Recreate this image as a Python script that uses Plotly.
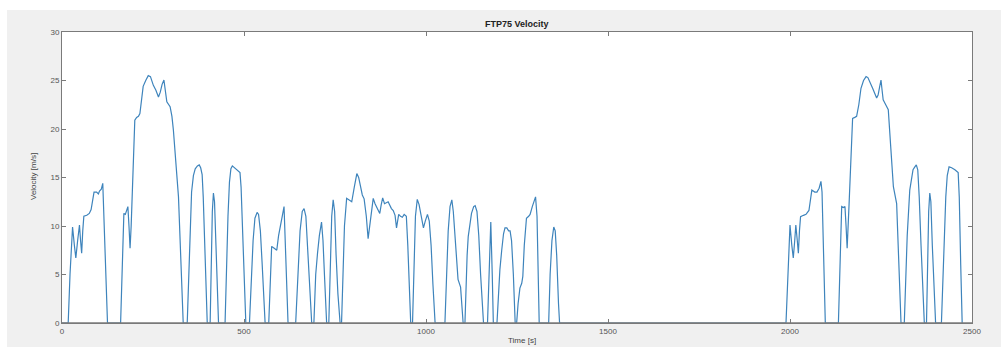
import plotly.graph_objects as go

# ---- data ----
t_phase1 = [0, 17, 22, 29, 34, 38, 43, 48, 51, 54, 57, 60, 68, 75, 80, 84, 88, 95, 100, 103, 108, 112, 125,
            161, 165, 170, 174, 178, 181, 184, 187, 190, 195, 200, 205, 210, 214, 218, 223, 230, 237, 243, 247,
            251, 258, 265, 270, 275, 280, 284, 288, 297, 302, 306, 313, 320, 327, 333,
            344, 348, 352, 356, 361, 366, 372, 377, 381, 385, 388, 392, 396, 399,
            407, 410, 413, 416, 419, 423, 427, 430,
            448, 452, 456, 460, 464, 468, 474, 482, 489, 492, 496, 500, 505]
v_phase1 = [0, 0, 5, 9.9, 8, 6.7, 8.5, 10.1, 8.5, 7.2, 9.5, 11.0, 11.1, 11.3, 11.7, 12.5, 13.5, 13.5, 13.3, 13.6, 13.8, 14.4, 0,
            0, 6, 11.3, 11.2, 11.8, 12.0, 10, 7.7, 10, 15.5, 20.9, 21.2, 21.3, 21.6, 23, 24.4, 25.0, 25.5, 25.4, 24.9,
            24.5, 24.0, 23.3, 23.8, 24.6, 25.05, 24, 22.8, 22.3, 21.3, 19.9, 16.5, 13.0, 6, 0,
            0, 5, 10, 13.5, 15.2, 15.9, 16.2, 16.3, 16.0, 15.3, 13, 8, 3, 0,
            0, 6, 11.5, 13.4, 12.5, 8, 3, 0,
            0, 6, 11, 14.5, 15.9, 16.2, 16.0, 15.7, 15.5, 14, 9, 4, 0]

t_phase2 = [515, 520, 525, 530, 536, 540, 545, 550, 555, 558,
            568, 572, 576, 583, 590, 595, 600, 605, 610, 614, 618, 621,
            642, 648, 654, 660, 665, 670, 676, 681, 686,
            692, 697, 702, 707, 713, 717, 721, 727,
            733, 737, 741, 745, 749, 753, 758, 764,
            768, 772, 776, 782, 789, 796, 803, 810, 815, 820, 825, 830, 836, 841, 846, 851, 855, 860, 864,
            869, 873, 877, 881, 886, 891, 896, 905, 910, 915, 919, 922, 925, 930, 935, 940, 946, 950, 954, 958,
            963, 967, 971, 976, 981, 986, 993, 998, 1004, 1009, 1014, 1019, 1025,
            1052, 1056, 1061, 1066, 1071, 1075, 1080, 1084, 1088, 1095, 1099, 1102,
            1107, 1110, 1113, 1116, 1120, 1125, 1131, 1135, 1140, 1145, 1150, 1155, 1158,
            1169, 1173, 1178, 1182, 1185,
            1195, 1199, 1203, 1208, 1213, 1217, 1222, 1227, 1231, 1235, 1240, 1245,
            1249, 1253, 1258, 1263, 1266, 1270, 1276, 1282, 1286, 1292, 1297, 1301, 1305, 1308, 1311,
            1337, 1341, 1346, 1351, 1355, 1359, 1364, 1367]
v_phase2 = [0, 5, 8.5, 10.8, 11.4, 11.2, 9.5, 6, 2, 0,
            0, 5, 7.9, 7.7, 7.5, 9, 10.2, 11, 12.0, 8, 3, 0,
            0, 5, 9.5, 11.5, 11.8, 11, 7, 3, 0,
            0, 5, 7.2, 9, 10.4, 8.5, 5, 0,
            0, 6, 11, 12.7, 11.5, 7, 3, 0,
            0, 5, 10, 12.85, 12.7, 12.5, 14, 15.4, 15.0, 14.0, 13.2, 12.8, 11, 8.7, 10, 11.8, 12.85, 12.3, 12.0,
            11.5, 11.3, 12.2, 12.9, 12.3, 12.4, 12.5, 11.8, 11.6, 11.1, 9.8, 10.5, 11.2, 11.0, 10.9, 11.2, 11.0, 8, 3, 0,
            0, 6, 11, 12.75, 12.2, 11.2, 9.8, 10.5, 11.2, 10.5, 8, 4, 0,
            0, 5, 9.5, 12, 12.7, 11.5, 8.6, 6, 4.5, 3.7, 2, 0,
            0, 4, 7, 8.9, 10, 11.3, 12.0, 12.1, 11.5, 9, 5, 1.5, 0,
            0, 5, 10.4, 5, 0,
            0, 3, 5.5, 7.5, 9.2, 9.8, 9.8, 9.5, 9.5, 8.5, 5, 0,
            0, 2, 3.6, 4.1, 4.8, 8, 10.8, 11.0, 11.2, 12, 12.5, 13.0, 11, 6, 0,
            0, 5, 8.5, 9.9, 9.5, 7, 2, 0]

t_phase3 = [1989, 1994, 2000, 2005, 2009, 2013, 2016, 2020, 2023, 2026, 2029, 2037, 2044, 2052, 2056, 2060, 2068,
            2074, 2080, 2085, 2088, 2097,
            2133, 2137, 2142, 2147, 2151, 2154, 2157, 2162, 2167, 2172, 2178, 2183, 2189, 2195, 2202, 2209, 2214,
            2220, 2227, 2238, 2242, 2246, 2250, 2253, 2256, 2263, 2270, 2277, 2284, 2293, 2299, 2305,
            2314, 2318, 2322, 2329, 2334, 2338, 2343, 2347, 2351, 2355, 2360, 2365, 2369,
            2375, 2378, 2381, 2384, 2387, 2391, 2396, 2400,
            2416, 2420, 2424, 2428, 2432, 2437, 2444, 2453, 2462, 2465, 2469, 2473]
v_phase3 = [0, 5, 10.1, 8, 6.7, 8.5, 10.1, 8.5, 7.2, 9.5, 10.96, 11.1, 11.2, 11.6, 12.5, 13.7, 13.5,
            13.5, 13.9, 14.6, 13.5, 0,
            0, 6, 12.0, 11.9, 12.0, 10, 7.7, 12, 17, 21.1, 21.2, 21.3, 22.5, 24.2, 25.0, 25.4, 25.3,
            24.7, 24.2, 23.2, 23.5, 24.3, 25.05, 24, 23.0, 22.5, 22.0, 18, 14.05, 12.3, 5, 0,
            0, 5, 9, 13.7, 15.0, 15.8, 16.1, 16.3, 15.8, 13, 8, 3, 0,
            0, 7, 11.5, 13.4, 12.5, 8, 3, 0,
            0, 5, 9.5, 13.0, 15.2, 16.1, 16.0, 15.8, 15.5, 13, 6, 0]

x_tick_vals = [0, 500, 1000, 1500, 2000, 2500]
x_tick_text = ["0", "500", "1000", "1500", "2000", "2500"]
y_tick_vals = [0, 5, 10, 15, 20, 25, 30]
y_tick_text = ["0", "5", "10", "15", "20", "25", "30"]

time_s = t_phase1 + t_phase2 + t_phase3
velocity = v_phase1 + v_phase2 + v_phase3

W, H = 1001, 347
L, R, T, B = 62, 29, 32, 24
pw, ph = W - L - R, H - T - B


def px2x(p):
    return (p - L) / pw


def px2y(p):
    return (H - B - p) / ph


font_family = "Liberation Sans, Arial, sans-serif"
axis_grey = "#7a7a7a"
fig = go.Figure()
fig.add_trace(go.Scatter(x=time_s, y=velocity, mode="lines",
                         line=dict(color="rgb(62,132,188)", width=1.2),
                         showlegend=False))

axis_common = dict(showgrid=False, zeroline=False, showline=True, linecolor=axis_grey,
                   mirror="ticks", ticks="inside", ticklen=4, tickcolor=axis_grey,
                   layer="above traces", linewidth=1,
                   tickfont=dict(family=font_family, size=8, color="#555555"))

fig.update_xaxes(range=[0, 2500], tickvals=x_tick_vals, ticktext=x_tick_text, **axis_common)
fig.update_yaxes(range=[0, 30], tickvals=y_tick_vals, ticktext=y_tick_text, **axis_common)

fig.update_layout(
    width=W, height=H, autosize=False,
    margin=dict(l=L, r=R, t=T, b=B),
    paper_bgcolor="#f0f0f0", plot_bgcolor="white",
    shapes=[
        dict(type="rect", xref="paper", yref="paper", x0=px2x(0), x1=px2x(W), y0=px2y(10), y1=px2y(0),
             fillcolor="white", line=dict(width=0), layer="below"),
        dict(type="rect", xref="paper", yref="paper", x0=px2x(0), x1=px2x(7), y0=px2y(H), y1=px2y(0),
             fillcolor="white", line=dict(width=0), layer="below"),
        # bottom box edge drawn over the trace so idle (zero) stretches read as the axis
        dict(type="line", xref="paper", yref="paper", x0=0, x1=1, y0=0, y1=0,
             line=dict(color=axis_grey, width=1.6), layer="above"),
    ],
    annotations=[
        dict(text="<b>FTP75 Velocity</b>", xref="paper", yref="paper", x=px2x(517), y=px2y(24),
             showarrow=False, xanchor="center", yanchor="middle",
             font=dict(family=font_family, size=9, color="#222222")),
        dict(text="Time [s]", xref="paper", yref="paper", x=px2x(522), y=px2y(340),
             showarrow=False, xanchor="center", yanchor="middle",
             font=dict(family=font_family, size=8, color="#444444")),
        dict(text="Velocity [m/s]", xref="paper", yref="paper", x=px2x(33), y=px2y(177),
             showarrow=False, xanchor="center", yanchor="middle", textangle=-90,
             font=dict(family=font_family, size=8, color="#444444")),
    ],
)

fig.write_html("out.html", config={"displayModeBar": False},
               post_script="document.body.style.margin='0';document.body.style.overflow='hidden';")
